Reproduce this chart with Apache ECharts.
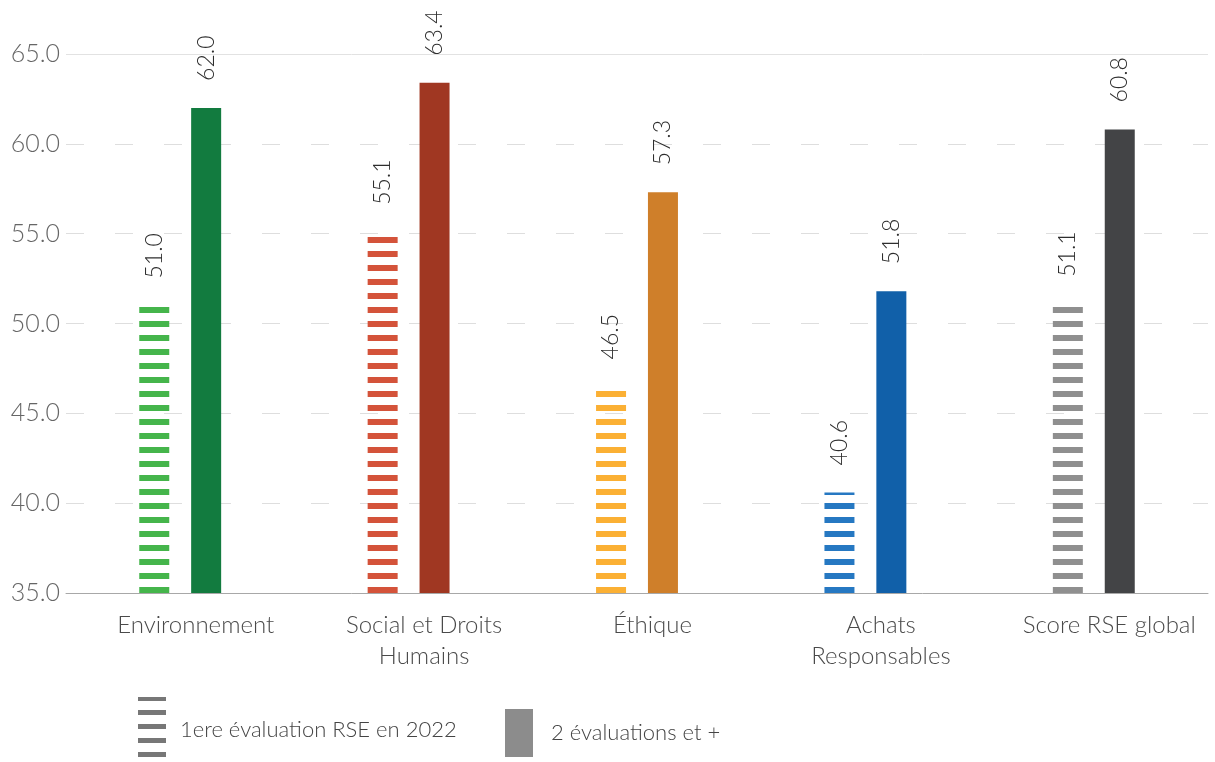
<!DOCTYPE html>
<html>
<head>
<meta charset="utf-8">
<script src="https://cdn.jsdelivr.net/npm/echarts@6/dist/echarts.min.js"></script>
<style>
  html, body { margin: 0; padding: 0; background: #fff; }
  #main { width: 1215px; height: 762px; }
</style>
</head>
<body>
<div id="main"></div>
<script>
// données
const categories = ['Environnement', 'Social et Droits\nHumains', 'Éthique', 'Achats\nResponsables', 'Score RSE global']
const firstEval = [51.0, 55.1, 46.5, 40.6, 51.1]
const multiEval = [62.0, 63.4, 57.3, 51.8, 60.8]
const yTicks = [35, 40, 45, 50, 55, 60, 65]

const stripeColors = ['#45b54b', '#d4533a', '#fbb034', '#2678c2', '#8f8f8f']
const solidColors = ['#127b3f', '#a03722', '#cf7f2a', '#1160a9', '#434446']

// motif rayé horizontal (barres "1ere évaluation")
function stripes(color, h) {
  const c = document.createElement('canvas')
  c.width = 4
  c.height = 14
  const ctx = c.getContext('2d')
  ctx.fillStyle = color
  ctx.fillRect(0, 0, 4, h)
  ctx.fillRect(0, 13, 4, 1)
  return {image: c, repeat: 'repeat'}
}

const chart = echarts.init(document.getElementById('main'))
const font = 'Lato, "Noto Sans", sans-serif'

const labelOpt = {
  show: true,
  position: 'top',
  rotate: 90,
  align: 'left',
  verticalAlign: 'middle',
  distance: 27,
  fontSize: 23,
  fontWeight: 300,
  fontFamily: font,
  color: '#2e2e2e',
  formatter: p => p.value.toFixed(1)
}

const option = {
  animation: false,
  grid: {left: 66, right: 7, top: 54, bottom: 169},
  legend: [
    {
      data: ['1ere évaluation RSE en 2022'],
      left: 138, top: 697, padding: 0,
      itemWidth: 28, itemHeight: 65,
      icon: 'rect',
      textStyle: {fontSize: 22, fontWeight: 300, fontFamily: font, color: '#444', padding: [10, 0, 0, 9]}
    },
    {
      data: ['2 évaluations et +'],
      left: 505, top: 709, padding: 0,
      itemWidth: 28, itemHeight: 48,
      icon: 'rect',
      textStyle: {fontSize: 22, fontWeight: 300, fontFamily: font, color: '#444', padding: [6, 0, 0, 13]}
    }
  ],
  xAxis: {
    type: 'category',
    data: categories,
    axisTick: {show: false},
    axisLine: {lineStyle: {color: '#a8a8a8', width: 1}},
    axisLabel: {
      fontSize: 24, fontWeight: 300, fontFamily: font, color: '#4a4a4a',
      lineHeight: 31, margin: 17, interval: 0, padding: [0, 0, 0, 31]
    }
  },
  yAxis: {
    type: 'value',
    min: yTicks[0],
    max: yTicks[yTicks.length - 1],
    interval: 5,
    axisLine: {show: false},
    axisTick: {show: false},
    axisLabel: {fontSize: 25, fontWeight: 300, fontFamily: font, color: '#666', margin: 6, formatter: v => v.toFixed(1)},
    splitLine: {lineStyle: {color: '#dedede', type: [18, 31], width: 1}}
  },
  series: [
    {
      name: '1ere évaluation RSE en 2022',
      type: 'bar',
      barWidth: 30,
      barGap: '73%',
      itemStyle: {color: stripes('#777777', 4)},
      label: labelOpt,
      data: firstEval.map((v, i) => ({value: v, itemStyle: {color: stripes(stripeColors[i], 5)}}))
    },
    {
      name: '2 évaluations et +',
      type: 'bar',
      barWidth: 30,
      itemStyle: {color: '#8c8c8c'},
      label: labelOpt,
      data: multiEval.map((v, i) => ({value: v, itemStyle: {color: solidColors[i]}})),
      markLine: {
        silent: true,
        symbol: 'none',
        label: {show: false},
        lineStyle: {color: '#e2e2e2', type: 'solid', width: 1},
        data: [{yAxis: 65}]
      }
    }
  ]
}

chart.setOption(option)
</script>
</body>
</html>
